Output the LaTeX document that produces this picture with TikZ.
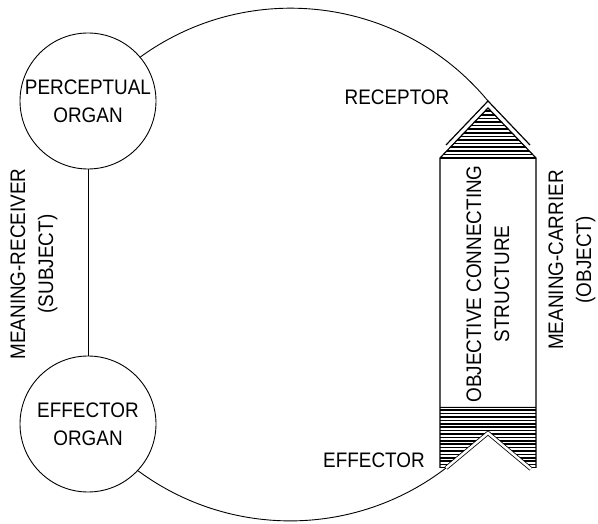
\documentclass[tikz,border=0pt]{standalone}
\usepackage{fontspec}
\setmainfont{Liberation Sans}[FakeStretch=0.9]
\tikzset{
  organ/.style={draw, circle, minimum size=136pt, inner sep=0pt, align=center},
  side/.style={rotate=90, align=center},
  hatch/.style={line width=1.6pt},
  wall/.style={line width=1.2pt}
}
\begin{document}
\begin{tikzpicture}[x=1pt,y=1pt,line width=0.9pt,font=\fontsize{21}{28}\selectfont]
  \useasboundingbox (0,0) rectangle (598,523);
  \node[organ] (perceptual) at (88,422) {PERCEPTUAL\\ORGAN};
  \node[organ] (effector) at (88,99) {EFFECTOR\\ORGAN};
  \node[side] (subject) at (34,259) {MEANING-RECEIVER\\(SUBJECT)};
  \node[side] (structure) at (488,239) {OBJECTIVE CONNECTING\\STRUCTURE};
  \node[side] (object) at (572,263) {MEANING-CARRIER\\(OBJECT)};
  \node (receptorlabel) at (397,426) {RECEPTOR};
  \node (effectorlabel) at (374,63) {EFFECTOR};
  \coordinate (rtip) at (488,422);
  \coordinate (etip) at (446,55);
  \coordinate (eapex) at (488,90);
  \coordinate (efoot) at (531,54);
  \draw (perceptual.south) -- (effector.north);
  \draw (rtip) arc[start angle=39.6, end angle=126, radius=256];
  \draw (etip) arc[start angle=-52.5, end angle=-126.5, radius=256];
  \begin{scope}
    \clip (440,365) -- (488,415) -- (536,365) -- cycle;
    \foreach \y in {365,368.6,...,416}
      \draw[hatch] (440,\y) -- (536,\y);
  \end{scope}
  \begin{scope}
    \clip (440,116) -- (536,116) -- (536,55) -- (531,55) -- (488,90) -- (446,55) -- (440,55) -- cycle;
    \foreach \y in {55,58.4,...,117}
      \draw[hatch] (440,\y) -- (536,\y);
  \end{scope}
  \draw[wall] (440,55) -- (440,365) -- (488,415) -- (536,365) -- (536,55);
  \draw[wall] (440,365) -- (536,365);
  \draw[wall] (446,378) -- (rtip) -- (530,378);
  \draw[double, double distance=2.5pt, line width=0.8pt] (etip) -- (eapex) -- (efoot);
\end{tikzpicture}
\end{document}
